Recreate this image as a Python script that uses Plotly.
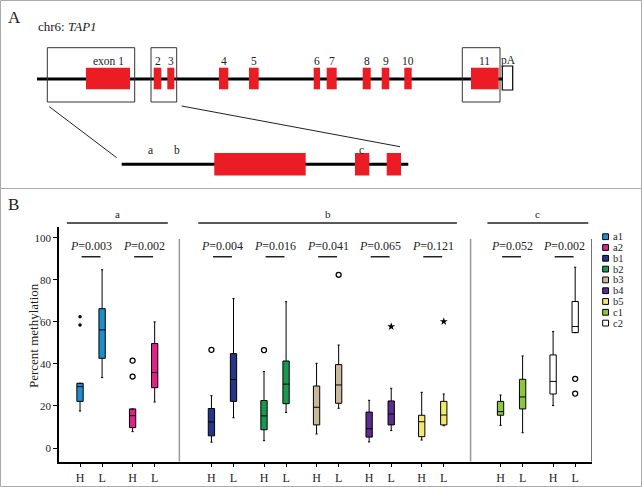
import plotly.graph_objects as go

W, H = 642, 487
FONT = "Liberation Serif"

# ---------------- Panel B data ----------------
series = ["a1", "a2", "b1", "b2", "b3", "b4", "b5", "c1", "c2"]
colors = ["#1f8fcc", "#e0218a", "#26358a", "#1a9850", "#c9b99b",
          "#5c2d8c", "#f2e86d", "#8cc63f", "#ffffff"]
pair_pos = [0, 1, 2.5, 3.5, 4.5, 5.5, 6.5, 8, 9]
tick_text = ["H", "L"]

# each entry = [H, L]
lowerfence = [[17.6, 33.5], [7.8, 21.9], [2.8, 14.4], [3.5, 16.9], [6.7, 18.9],
              [2.9, 8.3], [3.8, 10.6], [10.8, 7.3], [20.2, 54.9]]
q1 = [[22.2, 42.7], [9.7, 28.7], [5.8, 22.2], [8.7, 21.1], [11.0, 21.3],
      [5.2, 11.0], [5.4, 11.0], [15.6, 18.6], [25.7, 54.9]]
median = [[29.2, 56.2], [15.4, 35.9], [12.4, 32.6], [15.3, 30.4], [19.4, 30.0],
          [9.2, 16.2], [12.5, 15.7], [17.3, 24.3], [31.7, 57.8]]
q3 = [[30.8, 66.3], [18.6, 49.7], [18.8, 44.9], [22.6, 41.4], [29.5, 39.7],
      [17.1, 22.4], [15.6, 22.2], [22.2, 32.7], [44.3, 69.7]]
upperfence = [[30.8, 84.8], [18.6, 60.0], [24.9, 71.1], [36.4, 69.6], [40.3, 49.0],
              [22.7, 28.4], [26.5, 25.7], [25.2, 43.8], [55.4, 86.0]]

# outliers: (series index, 0=H / 1=L, value)
dot_outliers = [(0, 0, 58.5), (0, 0, 62.5)]
circle_outliers = [(1, 0, 34.0), (1, 0, 41.6), (2, 0, 46.7), (3, 0, 46.6),
                   (4, 1, 82.4), (8, 1, 32.9), (8, 1, 25.9)]
star_outliers = [(5, 1, 57.8), (6, 1, 60.2)]

p_values = ["0.003", "0.002", "0.004", "0.016", "0.041", "0.065", "0.121", "0.052", "0.002"]

groups = ["a", "b", "c"]
group_members = [[0, 1], [2, 3, 4, 5, 6], [7, 8]]

y_ticks = [0, 20, 40, 60, 80, 100]
y_title = "Percent methylation"

# ---------------- Panel A data (gene diagram, abstract units) ----------------
exon_labels = ["exon 1", "2", "3", "4", "5", "6", "7", "8", "9", "10", "11"]
exon_start = [86, 153.7, 167.3, 219, 249, 313.7, 326.7, 362.7, 381.7, 404.3, 471]
exon_end = [130, 161.3, 174.3, 228.3, 258.7, 320, 336.7, 370.7, 389.3, 411.7, 498.7]
gene_start, gene_end = 37, 502
pA_start, pA_end = 502.3, 512.7
zoom_boxes = [(47.3, 134.7), (151, 176.7), (462.3, 500)]
inset_start, inset_end = 121.7, 408.3
inset_exons = [(214.3, 305.7), (355, 369.3), (386.7, 401)]
inset_labels = ["a", "b", "c"]
inset_label_pos = [150.7, 176.7, 361.3]

OFF = 0.21
BOXW = 0.12

fig = go.Figure()

for i, name in enumerate(series):
    xs = [pair_pos[i] - OFF, pair_pos[i] + OFF]
    fig.add_trace(go.Box(
        x=xs, q1=q1[i], median=median[i], q3=q3[i],
        lowerfence=lowerfence[i], upperfence=upperfence[i],
        fillcolor=colors[i], line=dict(color="black", width=1),
        width=BOXW, whiskerwidth=0.35, name=name, showlegend=False,
        hoverinfo="skip", xaxis="x", yaxis="y"))

def outlier_trace(lst, symbol, size, lw):
    xs = [pair_pos[s] + (OFF if g else -OFF) for s, g, v in lst]
    ys = [v for s, g, v in lst]
    return go.Scatter(x=xs, y=ys, mode="markers", showlegend=False, hoverinfo="skip",
                      marker=dict(symbol=symbol, size=size, color="black",
                                  line=dict(color="black", width=lw)))

fig.add_trace(outlier_trace(dot_outliers, "circle", 3.5, 0))
fig.add_trace(outlier_trace(circle_outliers, "circle-open", 5, 1.3))
fig.add_trace(outlier_trace(star_outliers, "star", 6, 0))

tickvals, ticktext = [], []
for p in pair_pos:
    tickvals += [p - OFF, p + OFF]
    ticktext += tick_text

def py(px):
    return 1 - px / H

def pxx(px):
    return px / W

shapes = []
annotations = []

# P values and bars
for i, p in enumerate(p_values):
    annotations.append(dict(x=pair_pos[i], y=96.3, xref="x", yref="y",
                            text="<i>P</i>=" + p, showarrow=False,
                            font=dict(family=FONT, size=12, color="#222")))
    shapes.append(dict(type="line", xref="x", yref="y",
                       x0=pair_pos[i] - 0.18, x1=pair_pos[i] + 0.18, y0=91, y1=91,
                       line=dict(color="#222", width=1.5)))

# group bars & labels
for g, members in zip(groups, group_members):
    x0 = pair_pos[members[0]] - 0.46
    x1 = pair_pos[members[-1]] + 0.46
    shapes.append(dict(type="line", xref="x", yref="paper", x0=x0, x1=x1,
                       y0=py(223), y1=py(223), line=dict(color="#222", width=1.5)))
    annotations.append(dict(x=(x0 + x1) / 2, y=py(214), xref="x", yref="paper",
                            text=g, showarrow=False,
                            font=dict(family=FONT, size=11, color="#222")))

# separators
for xsep in [1.68, 7.22]:
    shapes.append(dict(type="line", xref="x", yref="y", x0=xsep, x1=xsep,
                       y0=99.4, y1=-6.5, line=dict(color="#999", width=1.5)))
shapes.append(dict(type="line", xref="x", yref="y", x0=9.53, x1=9.53,
                   y0=99.4, y1=-6.5, line=dict(color="#444", width=1.5)))

# y-axis title
annotations.append(dict(x=pxx(33), y=py(336), xref="paper", yref="paper",
                        xanchor="center", yanchor="middle",
                        text=y_title, textangle=-90, showarrow=False,
                        font=dict(family=FONT, size=13, color="#222")))

# legend (manual)
for i, (name, c) in enumerate(zip(series, colors)):
    yc = 236.7 + 10.8 * i
    shapes.append(dict(type="rect", xref="paper", yref="paper",
                       x0=pxx(602.7), x1=pxx(608.5), y0=py(yc - 2.9), y1=py(yc + 2.9),
                       fillcolor=c, line=dict(color="black", width=1)))
    annotations.append(dict(x=pxx(611.5), y=py(yc), xref="paper", yref="paper",
                            xanchor="left", yanchor="middle", text=name, showarrow=False,
                            borderpad=0,
                            font=dict(family=FONT, size=10.5, color="#222")))

# panel borders
shapes.append(dict(type="rect", xref="paper", yref="paper", x0=pxx(0.5), x1=pxx(641.5),
                   y0=py(188.5), y1=py(0.5), line=dict(color="#aaa", width=1)))
shapes.append(dict(type="rect", xref="paper", yref="paper", x0=pxx(0.5), x1=pxx(641.5),
                   y0=py(486.5), y1=py(188.5), line=dict(color="#aaa", width=1)))

annotations.append(dict(x=pxx(6), y=py(17), xref="paper", yref="paper", xanchor="left",
                        yanchor="middle", text="A", showarrow=False,
                        font=dict(family=FONT, size=17, color="#222")))
annotations.append(dict(x=pxx(6), y=py(204), xref="paper", yref="paper", xanchor="left",
                        yanchor="middle", text="B", showarrow=False,
                        font=dict(family=FONT, size=17, color="#222")))

# ---------------- Panel A shapes on x2/y2 ----------------
A2 = dict(xref="x2", yref="y2")
shapes.append(dict(type="line", x0=gene_start, x1=gene_end, y0=79, y1=79,
                   line=dict(color="black", width=3), **A2))
for s, e, lab in zip(exon_start, exon_end, exon_labels):
    shapes.append(dict(type="rect", x0=s, x1=e, y0=67.7, y1=89.3,
                       fillcolor="#ec1c24", line=dict(width=0), **A2))
    annotations.append(dict(x=(s + e) / 2, y=61, text=lab, showarrow=False,
                            font=dict(family=FONT, size=11.5, color="#222"), **A2))
shapes.append(dict(type="rect", x0=pA_start, x1=pA_end, y0=66, y1=90,
                   fillcolor="white", line=dict(color="black", width=1.2), **A2))
annotations.append(dict(x=(pA_start + pA_end) / 2 + 1, y=60, text="pA", showarrow=False,
                        font=dict(family=FONT, size=11.5, color="#222"), **A2))
for s, e in zoom_boxes:
    shapes.append(dict(type="rect", x0=s, x1=e, y0=47.7, y1=102,
                       line=dict(color="#333", width=1), **A2))
shapes.append(dict(type="line", x0=49.3, y0=106.7, x1=116.7, y1=157.7,
                   line=dict(color="#222", width=1), **A2))
shapes.append(dict(type="line", x0=181.7, y0=106, x1=400, y1=146.7,
                   line=dict(color="#222", width=1), **A2))
shapes.append(dict(type="line", x0=inset_start, x1=inset_end, y0=164.3, y1=164.3,
                   line=dict(color="black", width=3), **A2))
for s, e in inset_exons:
    shapes.append(dict(type="rect", x0=s, x1=e, y0=153, y1=175.5,
                       fillcolor="#ec1c24", line=dict(width=0), **A2))
for lab, xp in zip(inset_labels, inset_label_pos):
    annotations.append(dict(x=xp, y=150, text=lab, showarrow=False,
                            font=dict(family=FONT, size=11.5, color="#222"), **A2))
annotations.append(dict(x=36, y=26, xanchor="left", text="chr6: <i>TAP1</i>", showarrow=False,
                        font=dict(family=FONT, size=13, color="#222"), **A2))

fig.update_layout(
    width=W, height=H,
    margin=dict(l=0, r=0, t=0, b=0),
    paper_bgcolor="white", plot_bgcolor="rgba(0,0,0,0)",
    font=dict(family=FONT, color="#222"),
    showlegend=False,
    xaxis=dict(domain=[59 / W, 592 / W], range=[-0.61, 9.53],
               tickvals=tickvals, ticktext=ticktext, ticks="outside", ticklen=4,
               tickcolor="black", showline=True, linecolor="black", linewidth=1.5,
               showgrid=False, zeroline=False, tickfont=dict(family=FONT, size=12, color="#222"),
               anchor="y"),
    yaxis=dict(domain=[1 - 461.7 / H, 1 - 227.3 / H], range=[-6.5, 105],
               tickvals=y_ticks, ticks="outside", ticklen=4, tickcolor="black",
               showline=True, linecolor="black", linewidth=1.5, showgrid=False,
               zeroline=False, tickfont=dict(family=FONT, size=11, color="#222"),
               anchor="x"),
    xaxis2=dict(domain=[0, 1], range=[0, W], visible=False, anchor="y2"),
    yaxis2=dict(domain=[1 - 188 / H, 1], range=[188, 0], visible=False, anchor="x2"),
    shapes=shapes,
    annotations=annotations,
)

fig.write_html("out.html", config={"displayModeBar": False},
               post_script="document.body.style.margin='0';document.body.style.overflow='hidden';")
